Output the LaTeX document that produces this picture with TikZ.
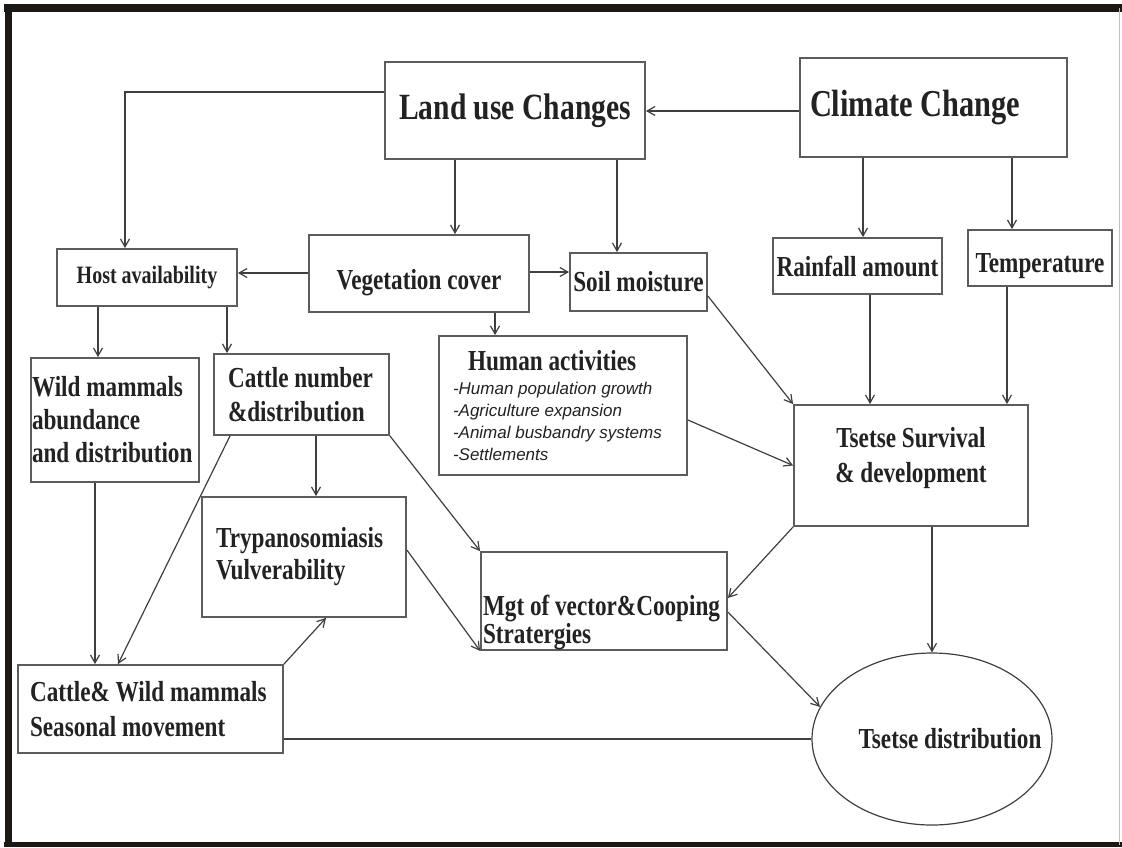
\documentclass[tikz,border=0pt]{standalone}
\usepackage{fontspec}
\setmainfont{Liberation Serif}[FakeStretch=0.8]
\setsansfont{Liberation Sans}
\usepackage{tikz}
\usetikzlibrary{arrows.meta,shapes.geometric}
\definecolor{rim}{HTML}{1C1915}
\definecolor{boxgray}{HTML}{5C5C5C}
\definecolor{linegray}{HTML}{3F3F3F}
\definecolor{txtdark}{HTML}{222222}

\begin{document}
\begin{tikzpicture}
  [x=1pt,y=-1pt,
   box/.style={draw=boxgray,line width=1.8pt,text=txtdark,inner sep=0pt,align=center,
     font=\bfseries\fontsize{29}{34}\selectfont},
   lbox/.style={box,align=left,execute at begin node={\spaceskip=0pt\relax}},
   arr/.style={draw=linegray,line width=1.2pt,-{Straight Barb[length=8pt,width=9pt]}},
   plain/.style={draw=linegray,line width=1.6pt}]

  \useasboundingbox (0,0) rectangle (1122,847);

  % frame
  \draw[rim,line width=8pt] (4,8) -- (1122,8);
  \draw[rim,line width=7pt] (8.5,4) -- (8.5,847);
  \draw[rim,line width=5pt] (4,844.5) -- (1122,844.5);
  \draw[gray!50,line width=1pt] (1119,8) -- (1119,845);

  \node[box,minimum width=260,minimum height=97,font=\bfseries\fontsize{37}{40}\selectfont] (n1) at (515,110.5) {Land use Changes};
  \node[lbox,minimum width=267,minimum height=99,inner xsep=10pt,text width=247pt,
    font=\bfseries\fontsize{38}{40}\selectfont] (n2) at (933.5,107.5) {Climate Change};
  \node[box,minimum width=180,minimum height=57,font=\bfseries\fontsize{25}{30}\selectfont] (n3) at (147,277.5) {Host availability};
  \node[box,minimum width=220,minimum height=77] (n4) at (419,273.5) {\rule{0pt}{38pt}Vegetation cover};
  \node[box,minimum width=137,minimum height=58] (n5) at (638.5,282) {Soil moisture};
  \node[lbox,minimum width=248,minimum height=139,inner xsep=14pt,text width=220pt,
    font=\sffamily\itshape\fontsize{17}{22}\selectfont] (n6) at (563,405.5)
    {\hspace*{15pt}{\rmfamily\upshape\bfseries\fontsize{29}{22}\selectfont Human activities}\\[2pt]
     -Human population growth\\ -Agriculture expansion\\ -Animal busbandry systems\\ -Settlements};
  \node[box,minimum width=169,minimum height=56] (n7) at (857.5,266) {Rainfall amount};
  \node[box,minimum width=144,minimum height=56] (n8) at (1040,258) {\rule{0pt}{36pt}Temperature};
  \node[box,minimum width=234,minimum height=121,font=\bfseries\fontsize{29}{35}\selectfont] (n9) at (911,465.5)
    {Tsetse Survival\\\& development\rule[-22pt]{0pt}{0pt}};
  \node[lbox,minimum width=168,minimum height=124,inner xsep=1pt,text width=166pt,
    font=\bfseries\fontsize{29}{33}\selectfont] (n10) at (115,420) {Wild mammals\\abundance\\and distribution};
  \node[lbox,minimum width=175,minimum height=81,inner xsep=14pt,text width=147pt] (n11) at (301.5,394.5)
    {Cattle number\\\&distribution};
  \node[lbox,minimum width=204,minimum height=120,inner xsep=14pt,text width=176pt,
    font=\bfseries\fontsize{29}{32}\selectfont] (n12) at (304,557) {Trypanosomiasis\\Vulverability};
  \node[lbox,minimum width=246,minimum height=98,inner xsep=2pt,text width=242pt,
    font=\bfseries\fontsize{29}{28}\selectfont] (n13) at (604,601)
    {\rule{0pt}{63pt}Mgt of vector\&Cooping\\Stratergies};
  \node[lbox,minimum width=265,minimum height=88,inner xsep=12pt,text width=241pt,
    font=\bfseries\fontsize{29}{35}\selectfont] (n14) at (150.5,709) {Cattle\& Wild mammals\\Seasonal movement};
  \node[ellipse,draw=linegray,line width=1.2pt,minimum width=240,minimum height=172,inner sep=0pt,
    label={[font=\bfseries\fontsize{29}{34}\selectfont,text=txtdark,xshift=18pt]center:Tsetse distribution}] (n15) at (932,739) {};

  % vertical links
  \foreach \x/\from/\to in {455/n1/n4,617/n1/n5,495/n4/n6,863/n2/n7,1012/n2/n8,870/n7/n9,1007/n8/n9,
                            932/n9/n15,98/n3/n10,227/n3/n11,95/n10/n14,316/n11/n12}
    \draw[arr] (\from.south -| \x,0) -- (\to.north -| \x,0);
  % horizontal links
  \foreach \y/\from/\to in {111/n2.west/n1.east,273/n4.west/n3.east,272/n4.east/n5.west}
    \draw[arr] (\from |- 0,\y) -- (\to |- 0,\y);

  \draw[arr] (n1.west |- 0,92) -| (n3.north -| 125,0);
  \draw[arr] (n5.east |- 0,296) -- (n9.north west);
  \draw[arr] (n6.east |- 0,420) -- (n9.west);
  \draw[arr] (n9.south west) -- (n13.east |- 0,598);
  \draw[arr] (n13.east |- 0,612) -- (n15.164);
  \draw[arr] (n11.south -| 230,0) -- (n14.north -| 118,0);
  \draw[arr] (n11.south east) -- (n13.north west);
  \draw[arr] (n12.east |- 0,550) -- (n13.south west);
  \draw[arr] (n14.north east) -- (n12.south -| 326,0);
  \draw[plain] (n14.east |- n15.west) -- (n15.west);
\end{tikzpicture}
\end{document}
